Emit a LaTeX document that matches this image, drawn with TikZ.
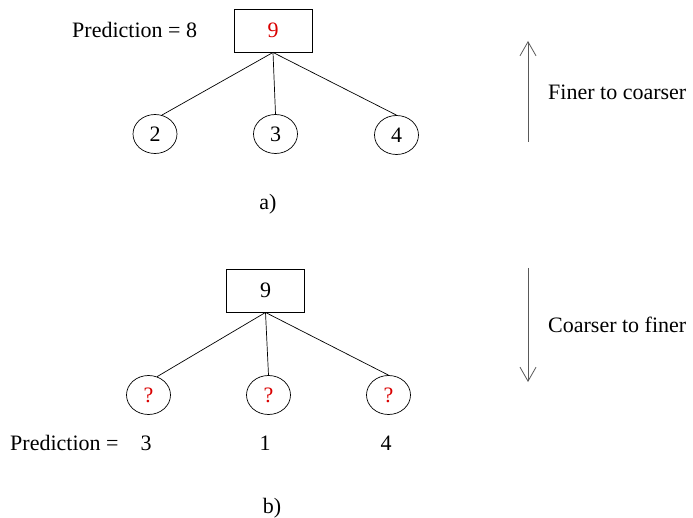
\documentclass[tikz,border=0pt]{standalone}
\usepackage{fontspec}
\setmainfont{Liberation Serif}
\usetikzlibrary{arrows.meta,shapes.geometric}

\begin{document}
\begin{tikzpicture}[x=1pt,y=-1pt,font=\fontsize{22}{26}\selectfont,
  box/.style={draw,line width=0.9pt,minimum width=78pt,minimum height=43pt,inner sep=0pt},
  leaf/.style={draw,ellipse,line width=0.7pt,minimum width=44pt,minimum height=39pt,inner sep=0pt},
  lbl/.style={anchor=base west,inner sep=0pt},
  redtxt/.style={text=red!85!black},
  dir/.style={draw=black!65,line width=1pt,-{Straight Barb[length=14pt,width=16pt,line width=0.8pt]}}]
  \useasboundingbox (0,0) rectangle (693,518);
  \node[box,redtxt] (rootA) at (273,30.5){9};
  \node[leaf] (a2) at (155,134){2};
  \node[leaf] (a3) at (275.5,134){3};
  \node[leaf] (a4) at (396.5,135){4};
  \draw[line width=0.7pt] (rootA.south)--(a2.70);
  \draw[line width=0.7pt] (rootA.south)--(a3.north);
  \draw[line width=0.7pt] (rootA.south)--(a4.north);
  \node[lbl] (predA) at (72,38){Prediction = 8};
  \node[inner sep=0pt,anchor=base] (capA) at (268,210){a)};
  \node[box] (rootB) at (265.5,290.5){9};
  \node[leaf,redtxt] (b1) at (148.5,395){?};
  \node[leaf,redtxt] (b2) at (268.5,395){?};
  \node[leaf,redtxt] (b3) at (388.5,395){?};
  \draw[line width=0.7pt] (rootB.south)--(b1.65);
  \draw[line width=0.7pt] (rootB.south)--(b2.north);
  \draw[line width=0.7pt] (rootB.south)--(b3.north);
  \node[lbl] (predB) at (10,450){Prediction =};
  \node[inner sep=0pt,anchor=base] (p1) at (146,450){3};
  \node[inner sep=0pt,anchor=base] (p2) at (265,450){1};
  \node[inner sep=0pt,anchor=base] (p3) at (386,450){4};
  \node[inner sep=0pt,anchor=base] (capB) at (272,513){b)};
  \coordinate (upS) at (528,142);
  \coordinate (upE) at (528,41);
  \coordinate (dnS) at (528,268);
  \coordinate (dnE) at (528,382);
  \draw[dir] (upS)--(upE);
  \draw[dir] (dnS)--(dnE);
  \node[lbl] (fine) at (548,100){Finer to coarser};
  \node[lbl] (coarse) at (548,333){Coarser to finer};
\end{tikzpicture}
\end{document}
